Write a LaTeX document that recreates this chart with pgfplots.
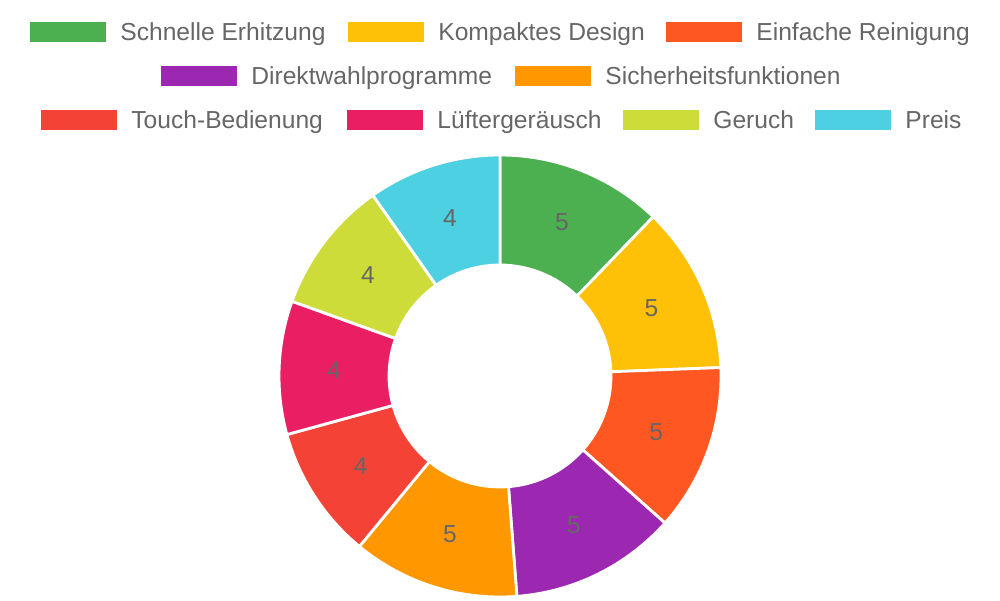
\documentclass[border=0pt]{standalone}
\usepackage{fontspec}
\setmainfont{Liberation Sans}
\usepackage{pgfplots}
\usepackage{pgfplotstable}
\pgfplotsset{compat=1.18}
\usetikzlibrary{calc}
\definecolor{c0}{HTML}{4CAF50}
\definecolor{c1}{HTML}{FFC107}
\definecolor{c2}{HTML}{FF5722}
\definecolor{c3}{HTML}{9C27B0}
\definecolor{c4}{HTML}{FF9800}
\definecolor{c5}{HTML}{F44336}
\definecolor{c6}{HTML}{E91E63}
\definecolor{c7}{HTML}{CDDC39}
\definecolor{c8}{HTML}{4DD0E1}
\definecolor{txt}{HTML}{666666}
\pgfplotstableread{
idx value
0 5
1 5
2 5
3 5
4 5
5 4
6 4
7 4
8 4
}\data
\tikzset{
  lbl/.style={text=txt, font=\fontsize{12.3}{14}\selectfont, inner sep=0pt},
  leg/.style={text=txt, font=\fontsize{12.3}{14}\selectfont, inner sep=0pt, anchor=base west},
}
\begin{document}
\begin{tikzpicture}
\path[use as bounding box] (0,0) rectangle (500pt,300pt);
\begin{axis}[at={(0,0)}, anchor=south west, scale only axis, width=500pt, height=300pt,
  xmin=0, xmax=1000, ymin=0, ymax=600, y dir=reverse, hide axis, clip=false]
% total
\pgfmathsetmacro\total{0}
\pgfplotsforeachungrouped \i in {0,...,8}{%
  \pgfplotstablegetelem{\i}{value}\of\data
  \pgfmathsetmacro\total{\total+\pgfplotsretval}%
}
\pgfmathsetmacro\cum{0}
\pgfplotsforeachungrouped \i in {0,...,8}{%
  \pgfplotstablegetelem{\i}{value}\of\data
  \let\v\pgfplotsretval
  \pgfmathsetmacro\aA{90-\cum*360/\total}%
  \pgfmathsetmacro\aB{90-(\cum+\v)*360/\total}%
  \pgfmathsetmacro\aM{(\aA+\aB)/2}%
  \pgfmathsetmacro\cum{\cum+\v}%
  \pgfmathtruncatemacro\vv{\v}%
  \edef\temp{\noexpand\fill[c\i, draw=white, line width=1.4pt, line join=round]
    ($(axis cs:500,376)+(\aA:110.5pt)$) arc[start angle=\aA, end angle=\aB, radius=110.5pt]
    -- ($(axis cs:500,376)+(\aB:55.5pt)$) arc[start angle=\aB, end angle=\aA, radius=55.5pt] -- cycle;
    \noexpand\node[lbl] at ($(axis cs:500,376)+(\aM:83pt)$) {\vv};}%
  \temp
}
% legend
\fill[c0] (axis cs:30,22) rectangle (axis cs:106,42);
\node[leg] at (axis cs:120,40) {Schnelle Erhitzung};
\fill[c1] (axis cs:348,22) rectangle (axis cs:424,42);
\node[leg] at (axis cs:438,40) {Kompaktes Design};
\fill[c2] (axis cs:666,22) rectangle (axis cs:742,42);
\node[leg] at (axis cs:756,40) {Einfache Reinigung};
\fill[c3] (axis cs:161,66) rectangle (axis cs:237,86);
\node[leg] at (axis cs:251,84) {Direktwahlprogramme};
\fill[c4] (axis cs:515,66) rectangle (axis cs:591,86);
\node[leg] at (axis cs:605,84) {Sicherheitsfunktionen};
\fill[c5] (axis cs:41,110) rectangle (axis cs:117,130);
\node[leg] at (axis cs:131,128) {Touch-Bedienung};
\fill[c6] (axis cs:347,110) rectangle (axis cs:423,130);
\node[leg] at (axis cs:437,128) {Lüftergeräusch};
\fill[c7] (axis cs:623,110) rectangle (axis cs:699,130);
\node[leg] at (axis cs:713,128) {Geruch};
\fill[c8] (axis cs:815,110) rectangle (axis cs:891,130);
\node[leg] at (axis cs:905,128) {Preis};
\end{axis}
\end{tikzpicture}
\end{document}
